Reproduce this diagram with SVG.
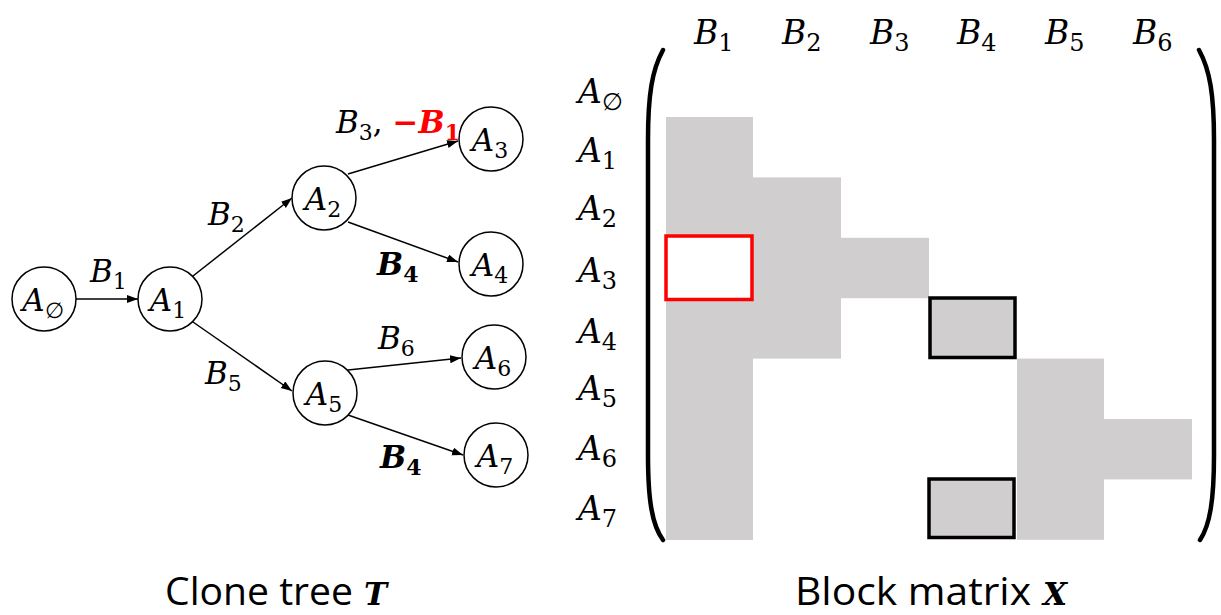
<svg xmlns="http://www.w3.org/2000/svg" width="1221" height="615" viewBox="0 0 1221 615">
<style>
.m{font-family:"DejaVu Serif","Liberation Serif",serif;font-style:italic;font-size:31px;fill:#000}
.L{font-size:33px}
.s{font-style:normal;font-size:22px}
.L .s{font-size:24px}
.b{font-weight:bold}
.red{fill:#FF0000}
.node{fill:#fff;stroke:#000;stroke-width:1.5}
.edge{stroke:#000;stroke-width:1.5;fill:none;marker-end:url(#arr)}
.cap{font-family:"Open Sans","Liberation Sans",sans-serif;font-size:38px;fill:#000}
.g{fill:#D0CECE}
.paren{fill:none;stroke:#000;stroke-width:4.5;stroke-linecap:round}
</style>
<defs>
<marker id="arr" markerUnits="userSpaceOnUse" markerWidth="12" markerHeight="10" refX="11" refY="4" orient="auto">
<path d="M0,0 L11,4 L0,8 Z" fill="#000"/>
</marker>
</defs>
<rect width="1221" height="615" fill="#fff"/>

<g id="connectors">
<line class="edge" x1="76" y1="299" x2="138" y2="299"/>
<line class="edge" x1="193" y1="276" x2="292" y2="198"/>
<line class="edge" x1="193" y1="322" x2="292" y2="391"/>
<line class="edge" x1="348" y1="174" x2="458" y2="141"/>
<line class="edge" x1="348" y1="222" x2="458" y2="262"/>
<line class="edge" x1="348" y1="370" x2="461" y2="358"/>
<line class="edge" x1="348" y1="415" x2="463" y2="455"/>
</g>

<g id="edge-labels">
<text class="m" x="90" y="282">B<tspan class="s" dy="7">1</tspan></text>
<text class="m" x="208" y="225">B<tspan class="s" dy="7">2</tspan></text>
<text class="m" x="205" y="384">B<tspan class="s" dy="7">5</tspan></text>
<text class="m" x="336" y="133">B<tspan class="s" dy="7">3</tspan><tspan dy="-7" font-style="normal">, </tspan><tspan class="b red" font-style="normal">−</tspan><tspan class="b red">B</tspan><tspan class="s b red" dy="7">1</tspan></text>
<text class="m b" x="377" y="275">B<tspan class="s" dy="7">4</tspan></text>
<text class="m" x="378" y="349">B<tspan class="s" dy="7">6</tspan></text>
<text class="m b" x="380" y="468">B<tspan class="s" dy="7">4</tspan></text>
</g>

<g id="node-A0"><circle class="node" cx="44" cy="299" r="32"/><text class="m" x="43" y="311" text-anchor="middle">A<tspan class="s" dy="7">∅</tspan></text></g>
<g id="node-A1"><circle class="node" cx="170" cy="299" r="32"/><text class="m" x="168" y="311" text-anchor="middle">A<tspan class="s" dy="7">1</tspan></text></g>
<g id="node-A2"><circle class="node" cx="324" cy="198" r="32"/><text class="m" x="323" y="210" text-anchor="middle">A<tspan class="s" dy="7">2</tspan></text></g>
<g id="node-A3"><circle class="node" cx="491" cy="139" r="32"/><text class="m" x="490" y="151" text-anchor="middle">A<tspan class="s" dy="7">3</tspan></text></g>
<g id="node-A4"><circle class="node" cx="491" cy="264" r="32"/><text class="m" x="490" y="276" text-anchor="middle">A<tspan class="s" dy="7">4</tspan></text></g>
<g id="node-A5"><circle class="node" cx="325" cy="393" r="32"/><text class="m" x="324" y="405" text-anchor="middle">A<tspan class="s" dy="7">5</tspan></text></g>
<g id="node-A6"><circle class="node" cx="494" cy="357" r="32"/><text class="m" x="493" y="369" text-anchor="middle">A<tspan class="s" dy="7">6</tspan></text></g>
<g id="node-A7"><circle class="node" cx="496" cy="455" r="32"/><text class="m" x="495" y="467" text-anchor="middle">A<tspan class="s" dy="7">7</tspan></text></g>

<g id="matrix">
<rect class="g" x="666" y="117" width="87" height="423"/>
<rect class="g" x="753" y="177.4" width="88" height="181.2"/>
<rect class="g" x="841" y="237.8" width="88" height="60.4"/>
<rect class="g" x="1017" y="358.6" width="87" height="181.2"/>
<rect class="g" x="1104" y="419" width="88" height="60.4"/>
<rect x="666" y="236" width="86" height="63.5" fill="#fff" stroke="#FF0000" stroke-width="3.5"/>
<rect class="g" x="930" y="298" width="85" height="59.5" stroke="#000" stroke-width="3.5"/>
<rect class="g" x="929" y="479" width="85" height="58.5" stroke="#000" stroke-width="3.5"/>
<path class="paren" d="M663,50 C652,70 648,95 648,140 L648,455 C648,500 652,525 663,540"/>
<path class="paren" d="M1199,50 C1210,70 1214,95 1214,140 L1214,455 C1214,500 1210,525 1200,540"/>
</g>

<g id="col-labels">
<text class="m L" x="694" y="44">B<tspan class="s" dy="7">1</tspan></text>
<text class="m L" x="782" y="44">B<tspan class="s" dy="7">2</tspan></text>
<text class="m L" x="870" y="44">B<tspan class="s" dy="7">3</tspan></text>
<text class="m L" x="957" y="44">B<tspan class="s" dy="7">4</tspan></text>
<text class="m L" x="1045" y="44">B<tspan class="s" dy="7">5</tspan></text>
<text class="m L" x="1133" y="44">B<tspan class="s" dy="7">6</tspan></text>
</g>

<g id="row-labels">
<text class="m L" x="578" y="103">A<tspan class="s" dy="7">∅</tspan></text>
<text class="m L" x="578" y="162">A<tspan class="s" dy="7">1</tspan></text>
<text class="m L" x="578" y="220">A<tspan class="s" dy="7">2</tspan></text>
<text class="m L" x="578" y="282">A<tspan class="s" dy="7">3</tspan></text>
<text class="m L" x="578" y="343">A<tspan class="s" dy="7">4</tspan></text>
<text class="m L" x="578" y="400">A<tspan class="s" dy="7">5</tspan></text>
<text class="m L" x="578" y="460">A<tspan class="s" dy="7">6</tspan></text>
<text class="m L" x="578" y="520">A<tspan class="s" dy="7">7</tspan></text>
</g>

<g id="captions">
<text class="cap" x="165" y="605" textLength="188" lengthAdjust="spacingAndGlyphs">Clone tree</text>
<text class="m b" x="364" y="605" font-size="40">T</text>
<text class="cap" x="795" y="605" textLength="236" lengthAdjust="spacingAndGlyphs">Block matrix</text>
<text class="m b" x="1043" y="605" font-size="40">X</text>
</g>
</svg>
